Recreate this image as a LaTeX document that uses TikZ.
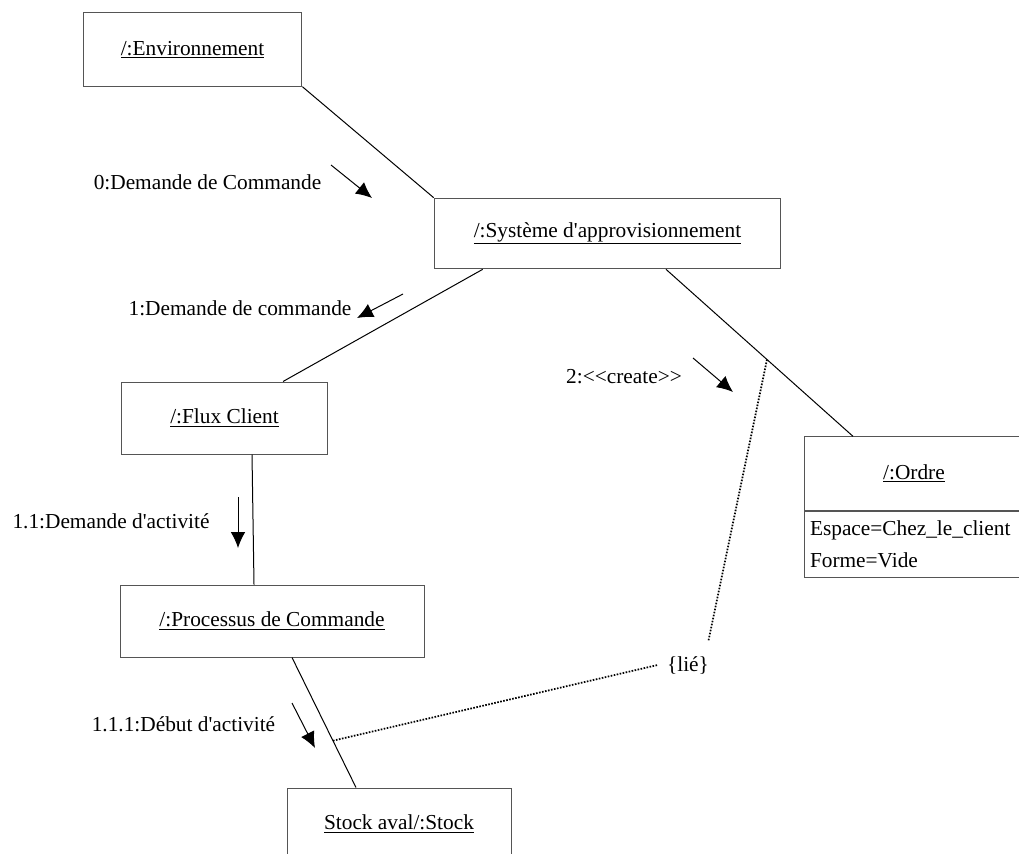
\documentclass[tikz,border=0pt]{standalone}
\usepackage{fontspec}
\setmainfont{Liberation Serif}[Ligatures=TeXOff]
\usetikzlibrary{calc,arrows.meta}

\begin{document}
\begin{tikzpicture}[x=0.75pt,y=-0.75pt]
    % 定义颜色
    \definecolor{boxgray}{RGB}{85, 85, 85}
    % 自定义命令：对象名加下划线
    \newcommand{\ObjName}[1]{\underline{#1}}
    % --- 设置全局样式 ---
    \tikzset{every node/.style = {font=\fontsize{16}{24}\selectfont}}

    % 对象框样式
    \tikzset{ObjStyle/.style = {
        shape=rectangle,        % 形状：矩形
        draw=boxgray,           % 边框颜色
        fill=white,             % 填充颜色
        line width=0.75pt,      % 边框粗细
        inner sep=0pt,          % 内部文字边距
        align=center            % 文字居中
    }}

    % 链接样式
    \tikzset{LinkStyle/.style = {
        line width=0.75pt,      % 线条粗细
        color=black             % 线条颜色
    }}

    % 消息箭头样式
    \tikzset{MsgStyle/.style = {
        -{Latex[length=12pt,width=11pt]}, % 箭头
        line width=0.75pt,
        color=black
    }}

    % 约束虚线样式
    \tikzset{TieStyle/.style = {
        dash pattern=on 1.2pt off 1.1pt,
        line width=1.3pt,
        color=black
    }}

    \useasboundingbox (0,0) rectangle (1019,853);

    % --- 定义节点 ---
    % 上层节点
    \node[ObjStyle, minimum width=164pt, minimum height=55pt] (Env) at (192.5,49.5) {\ObjName{/:Environnement}};
    \node[ObjStyle, minimum width=260pt, minimum height=53pt] (Sys) at (607.5,233.5) {\ObjName{/:Système d'approvisionnement}};

    % 左侧节点
    \node[ObjStyle, minimum width=155pt, minimum height=54pt] (Flux) at (224.5,418) {\ObjName{/:Flux Client}};
    \node[ObjStyle, minimum width=228pt, minimum height=54pt] (Proc) at (272,621) {\ObjName{/:Processus de Commande}};
    \node[ObjStyle, minimum width=168pt, minimum height=54pt] (Stock) at (399,824) {\ObjName{Stock aval/:Stock}};

    % 右侧节点（带属性）
    \node[ObjStyle, minimum width=165pt, minimum height=55pt] (Ordre) at (914,473.5) {\ObjName{/:Ordre}};
    \node[ObjStyle, anchor=north, minimum width=165pt, minimum height=49.5pt,
          text width=156pt, inner xsep=4.5pt, align=left] (OrdreAttr) at (Ordre.south)
          {Espace=Chez\_le\_client\\Forme=Vide};

    % --- 定义连线 ---
    \draw[LinkStyle] (Env.south east) -- (Sys.north west);
    \draw[LinkStyle] ($(Sys.south west)+(49,0)$) -- ($(Flux.north)+(58.5,0)$);
    \draw[LinkStyle] ($(Sys.south)+(58.5,0)$) -- ($(Ordre.north)+(-61,0)$) coordinate[pos=0.54] (tieA);
    \draw[LinkStyle] ($(Flux.south)+(27.5,0)$) -- ($(Proc.north)+(-18,0)$);
    \draw[LinkStyle] ($(Proc.south)+(20,0)$) -- ($(Stock.north)+(-43,0)$) coordinate[pos=0.64] (tieB);

    % 约束 {lié}
    \node[inner sep=7pt] (Lie) at (688,665) {\{lié\}};
    \draw[TieStyle] (tieA) -- ($(Lie.north east)+(-10,-6)$);
    \draw[TieStyle] (tieB) -- (Lie.west);

    % --- 消息 ---
    \coordinate (m0a) at (331,165);   \coordinate (m0b) at (372,198);
    \coordinate (m1a) at (403,294);   \coordinate (m1b) at (357,318);
    \coordinate (m2a) at (693,358);   \coordinate (m2b) at (733,392);
    \coordinate (m11a) at (238,497);  \coordinate (m11b) at (238,548);
    \coordinate (m111a) at (292,703); \coordinate (m111b) at (315,748);

    \draw[MsgStyle] (m0a) -- (m0b);     % Environnement -> Système
    \draw[MsgStyle] (m1a) -- (m1b);     % Système -> Flux Client
    \draw[MsgStyle] (m2a) -- (m2b);     % Système -> Ordre
    \draw[MsgStyle] (m11a) -- (m11b);   % Flux Client -> Processus
    \draw[MsgStyle] (m111a) -- (m111b); % Processus -> Stock

    \node (L0) at (207.5,182) {0:Demande de Commande};
    \node (L1) at (240,308) {1:Demande de commande};
    \node (L2) at (624,377) {2:<<create>>};
    \node (L11) at (111,521) {1.1:Demande d'activité};
    \node (L111) at (183.5,724) {1.1.1:Début d'activité};

\end{tikzpicture}
\end{document}
